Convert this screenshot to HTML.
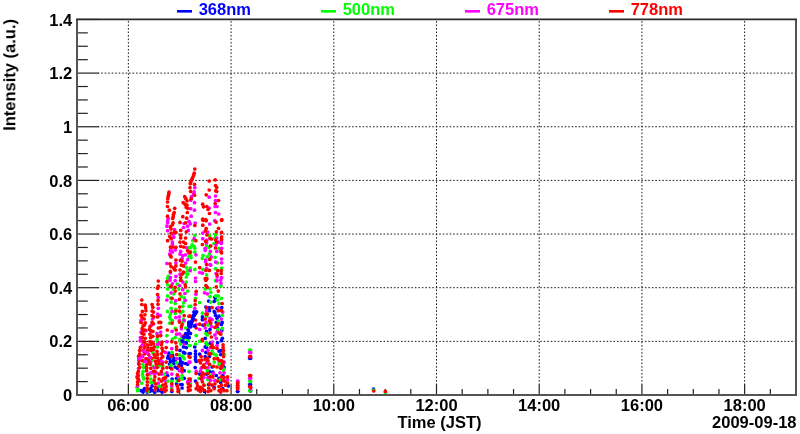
<!DOCTYPE html>
<html><head><meta charset="utf-8"><style>
html,body{margin:0;padding:0;background:#fff;width:800px;height:434px;overflow:hidden}
svg{display:block}
text{font-family:"Liberation Sans",sans-serif}
</style></head><body>
<svg width="800" height="434" viewBox="0 0 800 434">
<rect width="800" height="434" fill="#fff"/>
<g stroke="#1a1a1a" stroke-width="1" stroke-dasharray="1.6 1.885" fill="none"><line x1="98.5" y1="341.35" x2="795.0" y2="341.35" stroke-dashoffset="0.790"/><line x1="98.5" y1="287.70" x2="795.0" y2="287.70" stroke-dashoffset="0.790"/><line x1="98.5" y1="234.05" x2="795.0" y2="234.05" stroke-dashoffset="0.790"/><line x1="98.5" y1="180.40" x2="795.0" y2="180.40" stroke-dashoffset="0.790"/><line x1="98.5" y1="126.75" x2="795.0" y2="126.75" stroke-dashoffset="0.790"/><line x1="98.5" y1="73.10" x2="795.0" y2="73.10" stroke-dashoffset="0.790"/><line x1="128.36" y1="20.95" x2="128.36" y2="384.0" stroke-dashoffset="3.395"/><line x1="231.07" y1="20.95" x2="231.07" y2="384.0" stroke-dashoffset="3.395"/><line x1="333.79" y1="20.95" x2="333.79" y2="384.0" stroke-dashoffset="3.395"/><line x1="436.50" y1="20.95" x2="436.50" y2="384.0" stroke-dashoffset="3.395"/><line x1="539.21" y1="20.95" x2="539.21" y2="384.0" stroke-dashoffset="3.395"/><line x1="641.93" y1="20.95" x2="641.93" y2="384.0" stroke-dashoffset="3.395"/><line x1="744.64" y1="20.95" x2="744.64" y2="384.0" stroke-dashoffset="3.395"/></g>
<g stroke="#222" stroke-width="1.2"><line x1="77.0" y1="395.00" x2="99.0" y2="395.00"/><line x1="77.0" y1="381.59" x2="87.8" y2="381.59"/><line x1="77.0" y1="368.18" x2="87.8" y2="368.18"/><line x1="77.0" y1="354.76" x2="87.8" y2="354.76"/><line x1="77.0" y1="341.35" x2="99.0" y2="341.35"/><line x1="77.0" y1="327.94" x2="87.8" y2="327.94"/><line x1="77.0" y1="314.52" x2="87.8" y2="314.52"/><line x1="77.0" y1="301.11" x2="87.8" y2="301.11"/><line x1="77.0" y1="287.70" x2="99.0" y2="287.70"/><line x1="77.0" y1="274.29" x2="87.8" y2="274.29"/><line x1="77.0" y1="260.88" x2="87.8" y2="260.88"/><line x1="77.0" y1="247.46" x2="87.8" y2="247.46"/><line x1="77.0" y1="234.05" x2="99.0" y2="234.05"/><line x1="77.0" y1="220.64" x2="87.8" y2="220.64"/><line x1="77.0" y1="207.22" x2="87.8" y2="207.22"/><line x1="77.0" y1="193.81" x2="87.8" y2="193.81"/><line x1="77.0" y1="180.40" x2="99.0" y2="180.40"/><line x1="77.0" y1="166.99" x2="87.8" y2="166.99"/><line x1="77.0" y1="153.57" x2="87.8" y2="153.57"/><line x1="77.0" y1="140.16" x2="87.8" y2="140.16"/><line x1="77.0" y1="126.75" x2="99.0" y2="126.75"/><line x1="77.0" y1="113.34" x2="87.8" y2="113.34"/><line x1="77.0" y1="99.92" x2="87.8" y2="99.92"/><line x1="77.0" y1="86.51" x2="87.8" y2="86.51"/><line x1="77.0" y1="73.10" x2="99.0" y2="73.10"/><line x1="77.0" y1="59.69" x2="87.8" y2="59.69"/><line x1="77.0" y1="46.27" x2="87.8" y2="46.27"/><line x1="77.0" y1="32.86" x2="87.8" y2="32.86"/><line x1="77.0" y1="19.45" x2="99.0" y2="19.45"/><line x1="77.00" y1="395.0" x2="77.00" y2="389.0"/><line x1="102.68" y1="395.0" x2="102.68" y2="389.0"/><line x1="128.36" y1="395.0" x2="128.36" y2="384.0"/><line x1="154.04" y1="395.0" x2="154.04" y2="389.0"/><line x1="179.71" y1="395.0" x2="179.71" y2="389.0"/><line x1="205.39" y1="395.0" x2="205.39" y2="389.0"/><line x1="231.07" y1="395.0" x2="231.07" y2="384.0"/><line x1="256.75" y1="395.0" x2="256.75" y2="389.0"/><line x1="282.43" y1="395.0" x2="282.43" y2="389.0"/><line x1="308.11" y1="395.0" x2="308.11" y2="389.0"/><line x1="333.79" y1="395.0" x2="333.79" y2="384.0"/><line x1="359.46" y1="395.0" x2="359.46" y2="389.0"/><line x1="385.14" y1="395.0" x2="385.14" y2="389.0"/><line x1="410.82" y1="395.0" x2="410.82" y2="389.0"/><line x1="436.50" y1="395.0" x2="436.50" y2="384.0"/><line x1="462.18" y1="395.0" x2="462.18" y2="389.0"/><line x1="487.86" y1="395.0" x2="487.86" y2="389.0"/><line x1="513.54" y1="395.0" x2="513.54" y2="389.0"/><line x1="539.21" y1="395.0" x2="539.21" y2="384.0"/><line x1="564.89" y1="395.0" x2="564.89" y2="389.0"/><line x1="590.57" y1="395.0" x2="590.57" y2="389.0"/><line x1="616.25" y1="395.0" x2="616.25" y2="389.0"/><line x1="641.93" y1="395.0" x2="641.93" y2="384.0"/><line x1="667.61" y1="395.0" x2="667.61" y2="389.0"/><line x1="693.29" y1="395.0" x2="693.29" y2="389.0"/><line x1="718.96" y1="395.0" x2="718.96" y2="389.0"/><line x1="744.64" y1="395.0" x2="744.64" y2="384.0"/><line x1="770.32" y1="395.0" x2="770.32" y2="389.0"/><line x1="796.00" y1="395.0" x2="796.00" y2="389.0"/></g>
<g stroke="#555" stroke-width="2" fill="none"><line x1="77.0" y1="19.45" x2="77.0" y2="396.0"/><line x1="796.0" y1="19.45" x2="796.0" y2="396.0"/><line x1="76.0" y1="395.0" x2="797.0" y2="395.0"/></g>
<line x1="76.0" y1="19.35" x2="797.0" y2="19.35" stroke="#2a2a2a" stroke-width="1.6"/>
<g fill="#0000ff"><circle cx="189.0" cy="322.4" r="1.85"/><circle cx="189.0" cy="324.5" r="1.85"/><circle cx="187.6" cy="334.2" r="1.85"/><circle cx="189.0" cy="332.8" r="1.85"/><circle cx="187.0" cy="337.0" r="1.85"/><circle cx="189.0" cy="337.6" r="1.85"/><circle cx="214.9" cy="297.3" r="1.85"/><circle cx="215.6" cy="299.7" r="1.85"/><circle cx="214.2" cy="301.4" r="1.85"/><circle cx="208.7" cy="301.1" r="1.85"/><circle cx="209.4" cy="307.6" r="1.85"/><circle cx="205.9" cy="307.0" r="1.85"/><circle cx="217.0" cy="308.3" r="1.85"/><circle cx="221.7" cy="307.6" r="1.85"/><circle cx="194.1" cy="312.1" r="1.85"/><circle cx="193.5" cy="315.5" r="1.85"/><circle cx="192.8" cy="318.3" r="1.85"/><circle cx="192.1" cy="321.1" r="1.85"/><circle cx="191.4" cy="323.8" r="1.85"/><circle cx="190.7" cy="326.6" r="1.85"/><circle cx="190.3" cy="333.5" r="1.85"/><circle cx="202.4" cy="316.9" r="1.85"/><circle cx="202.4" cy="319.7" r="1.85"/><circle cx="203.1" cy="325.2" r="1.85"/><circle cx="206.6" cy="331.4" r="1.85"/><circle cx="205.2" cy="338.3" r="1.85"/><circle cx="209.4" cy="310.7" r="1.85"/><circle cx="214.9" cy="312.8" r="1.85"/><circle cx="215.6" cy="315.5" r="1.85"/><circle cx="217.0" cy="318.3" r="1.85"/><circle cx="216.3" cy="322.4" r="1.85"/><circle cx="217.6" cy="328.0" r="1.85"/><circle cx="219.0" cy="316.2" r="1.85"/><circle cx="210.0" cy="329.4" r="1.85"/><circle cx="214.2" cy="311.4" r="1.85"/><circle cx="194.8" cy="325.9" r="1.85"/><circle cx="222.1" cy="322.4" r="1.85"/><circle cx="221.4" cy="324.5" r="1.85"/><circle cx="221.7" cy="330.7" r="1.85"/><circle cx="222.4" cy="338.3" r="1.85"/><circle cx="182.8" cy="341.4" r="1.85"/><circle cx="186.3" cy="342.8" r="1.85"/><circle cx="183.5" cy="346.9" r="1.85"/><circle cx="186.3" cy="347.6" r="1.85"/><circle cx="180.0" cy="350.4" r="1.85"/><circle cx="183.5" cy="352.4" r="1.85"/><circle cx="184.9" cy="353.1" r="1.85"/><circle cx="169.0" cy="353.1" r="1.85"/><circle cx="168.3" cy="355.9" r="1.85"/><circle cx="167.6" cy="358.0" r="1.85"/><circle cx="169.7" cy="358.7" r="1.85"/><circle cx="172.4" cy="355.2" r="1.85"/><circle cx="173.8" cy="358.0" r="1.85"/><circle cx="173.1" cy="360.7" r="1.85"/><circle cx="170.4" cy="361.4" r="1.85"/><circle cx="175.2" cy="360.7" r="1.85"/><circle cx="180.0" cy="358.7" r="1.85"/><circle cx="180.7" cy="361.4" r="1.85"/><circle cx="182.8" cy="362.8" r="1.85"/><circle cx="185.6" cy="363.5" r="1.85"/><circle cx="187.6" cy="364.2" r="1.85"/><circle cx="179.4" cy="364.2" r="1.85"/><circle cx="173.8" cy="363.5" r="1.85"/><circle cx="169.7" cy="364.2" r="1.85"/><circle cx="170.4" cy="367.6" r="1.85"/><circle cx="175.2" cy="367.0" r="1.85"/><circle cx="177.3" cy="368.3" r="1.85"/><circle cx="189.0" cy="353.8" r="1.85"/><circle cx="181.4" cy="365.6" r="1.85"/><circle cx="194.8" cy="346.9" r="1.85"/><circle cx="195.5" cy="351.1" r="1.85"/><circle cx="195.5" cy="353.8" r="1.85"/><circle cx="195.5" cy="356.6" r="1.85"/><circle cx="195.5" cy="359.4" r="1.85"/><circle cx="196.2" cy="361.4" r="1.85"/><circle cx="199.7" cy="354.2" r="1.85"/><circle cx="190.3" cy="353.5" r="1.85"/><circle cx="195.2" cy="367.6" r="1.85"/><circle cx="205.2" cy="356.6" r="1.85"/><circle cx="205.2" cy="346.9" r="1.85"/><circle cx="206.6" cy="347.6" r="1.85"/><circle cx="206.6" cy="344.1" r="1.85"/><circle cx="210.0" cy="343.5" r="1.85"/><circle cx="205.9" cy="352.4" r="1.85"/><circle cx="217.6" cy="342.8" r="1.85"/><circle cx="219.0" cy="351.1" r="1.85"/><circle cx="212.1" cy="367.0" r="1.85"/><circle cx="209.4" cy="356.6" r="1.85"/><circle cx="220.7" cy="350.7" r="1.85"/><circle cx="220.7" cy="354.5" r="1.85"/><circle cx="224.1" cy="367.0" r="1.85"/><circle cx="221.4" cy="340.7" r="1.85"/><circle cx="249.7" cy="358.3" r="1.85"/><circle cx="141.1" cy="390.7" r="1.85"/><circle cx="143.8" cy="390.0" r="1.85"/><circle cx="144.5" cy="388.7" r="1.85"/><circle cx="150.7" cy="388.7" r="1.85"/><circle cx="152.1" cy="385.9" r="1.85"/><circle cx="152.1" cy="390.7" r="1.85"/><circle cx="157.6" cy="388.0" r="1.85"/><circle cx="158.3" cy="390.7" r="1.85"/><circle cx="143.1" cy="392.1" r="1.85"/><circle cx="147.3" cy="392.1" r="1.85"/><circle cx="154.9" cy="392.1" r="1.85"/><circle cx="149.4" cy="391.4" r="1.85"/><circle cx="167.6" cy="375.5" r="1.85"/><circle cx="161.0" cy="390.7" r="1.85"/><circle cx="162.1" cy="392.1" r="1.85"/><circle cx="172.1" cy="379.0" r="1.85"/><circle cx="171.8" cy="391.4" r="1.85"/><circle cx="176.6" cy="378.3" r="1.85"/><circle cx="176.6" cy="383.8" r="1.85"/><circle cx="180.7" cy="384.5" r="1.85"/><circle cx="182.1" cy="384.5" r="1.85"/><circle cx="182.1" cy="388.0" r="1.85"/><circle cx="184.2" cy="378.3" r="1.85"/><circle cx="184.2" cy="370.7" r="1.85"/><circle cx="199.7" cy="374.1" r="1.85"/><circle cx="195.5" cy="381.1" r="1.85"/><circle cx="199.7" cy="389.4" r="1.85"/><circle cx="204.5" cy="391.4" r="1.85"/><circle cx="206.6" cy="374.1" r="1.85"/><circle cx="209.4" cy="371.4" r="1.85"/><circle cx="212.8" cy="372.1" r="1.85"/><circle cx="216.3" cy="375.5" r="1.85"/><circle cx="208.7" cy="384.5" r="1.85"/><circle cx="214.2" cy="387.3" r="1.85"/><circle cx="219.0" cy="378.3" r="1.85"/><circle cx="222.8" cy="375.5" r="1.85"/><circle cx="220.7" cy="382.4" r="1.85"/><circle cx="228.3" cy="385.9" r="1.85"/><circle cx="222.8" cy="388.7" r="1.85"/><circle cx="237.6" cy="391.4" r="1.85"/><circle cx="249.7" cy="384.5" r="1.85"/><circle cx="237.7" cy="391.3" r="1.85"/><circle cx="250.6" cy="358.2" r="1.85"/><circle cx="250.6" cy="384.5" r="1.85"/><circle cx="250.6" cy="391.0" r="1.85"/><circle cx="373.5" cy="389.0" r="1.85"/></g><g fill="#00ff00"><circle cx="189.0" cy="247.6" r="1.85"/><circle cx="194.8" cy="235.6" r="1.85"/><circle cx="192.8" cy="240.7" r="1.85"/><circle cx="192.1" cy="244.9" r="1.85"/><circle cx="194.1" cy="246.3" r="1.85"/><circle cx="190.7" cy="247.6" r="1.85"/><circle cx="194.8" cy="248.3" r="1.85"/><circle cx="209.4" cy="235.2" r="1.85"/><circle cx="206.6" cy="245.6" r="1.85"/><circle cx="208.7" cy="247.6" r="1.85"/><circle cx="215.4" cy="234.9" r="1.85"/><circle cx="214.7" cy="238.0" r="1.85"/><circle cx="214.0" cy="243.5" r="1.85"/><circle cx="218.8" cy="248.3" r="1.85"/><circle cx="186.3" cy="267.3" r="1.85"/><circle cx="187.6" cy="270.7" r="1.85"/><circle cx="184.9" cy="272.8" r="1.85"/><circle cx="187.6" cy="274.2" r="1.85"/><circle cx="186.3" cy="277.0" r="1.85"/><circle cx="168.3" cy="276.3" r="1.85"/><circle cx="167.6" cy="278.3" r="1.85"/><circle cx="189.0" cy="256.9" r="1.85"/><circle cx="190.7" cy="252.1" r="1.85"/><circle cx="190.7" cy="255.5" r="1.85"/><circle cx="191.0" cy="257.6" r="1.85"/><circle cx="194.8" cy="252.1" r="1.85"/><circle cx="203.1" cy="255.5" r="1.85"/><circle cx="202.4" cy="258.3" r="1.85"/><circle cx="207.3" cy="256.9" r="1.85"/><circle cx="209.4" cy="254.1" r="1.85"/><circle cx="190.3" cy="268.0" r="1.85"/><circle cx="194.8" cy="269.4" r="1.85"/><circle cx="202.8" cy="269.4" r="1.85"/><circle cx="206.6" cy="274.9" r="1.85"/><circle cx="215.0" cy="257.3" r="1.85"/><circle cx="217.4" cy="262.8" r="1.85"/><circle cx="215.4" cy="268.7" r="1.85"/><circle cx="221.6" cy="270.0" r="1.85"/><circle cx="221.6" cy="268.0" r="1.85"/><circle cx="167.6" cy="284.8" r="1.85"/><circle cx="167.6" cy="289.0" r="1.85"/><circle cx="173.1" cy="289.0" r="1.85"/><circle cx="173.8" cy="293.8" r="1.85"/><circle cx="167.6" cy="295.9" r="1.85"/><circle cx="170.4" cy="298.0" r="1.85"/><circle cx="171.1" cy="302.1" r="1.85"/><circle cx="175.2" cy="303.5" r="1.85"/><circle cx="178.7" cy="289.0" r="1.85"/><circle cx="181.4" cy="296.6" r="1.85"/><circle cx="184.2" cy="298.0" r="1.85"/><circle cx="183.5" cy="302.8" r="1.85"/><circle cx="182.8" cy="306.3" r="1.85"/><circle cx="186.3" cy="282.1" r="1.85"/><circle cx="187.6" cy="291.1" r="1.85"/><circle cx="189.0" cy="306.3" r="1.85"/><circle cx="171.1" cy="308.3" r="1.85"/><circle cx="175.9" cy="309.4" r="1.85"/><circle cx="177.3" cy="284.1" r="1.85"/><circle cx="181.4" cy="280.3" r="1.85"/><circle cx="157.6" cy="334.2" r="1.85"/><circle cx="157.0" cy="339.0" r="1.85"/><circle cx="167.6" cy="311.4" r="1.85"/><circle cx="170.4" cy="314.1" r="1.85"/><circle cx="169.7" cy="316.9" r="1.85"/><circle cx="170.4" cy="319.0" r="1.85"/><circle cx="172.4" cy="320.7" r="1.85"/><circle cx="169.7" cy="323.1" r="1.85"/><circle cx="175.2" cy="313.5" r="1.85"/><circle cx="180.7" cy="312.8" r="1.85"/><circle cx="182.8" cy="311.4" r="1.85"/><circle cx="183.5" cy="319.0" r="1.85"/><circle cx="182.8" cy="322.4" r="1.85"/><circle cx="185.6" cy="328.0" r="1.85"/><circle cx="175.2" cy="328.3" r="1.85"/><circle cx="166.9" cy="335.6" r="1.85"/><circle cx="175.2" cy="337.6" r="1.85"/><circle cx="172.4" cy="339.0" r="1.85"/><circle cx="184.2" cy="338.3" r="1.85"/><circle cx="180.0" cy="339.0" r="1.85"/><circle cx="215.6" cy="280.7" r="1.85"/><circle cx="205.2" cy="289.0" r="1.85"/><circle cx="210.0" cy="288.6" r="1.85"/><circle cx="210.7" cy="292.4" r="1.85"/><circle cx="210.0" cy="296.6" r="1.85"/><circle cx="215.6" cy="295.9" r="1.85"/><circle cx="218.3" cy="295.9" r="1.85"/><circle cx="217.3" cy="300.0" r="1.85"/><circle cx="199.7" cy="302.5" r="1.85"/><circle cx="210.7" cy="302.1" r="1.85"/><circle cx="195.5" cy="298.3" r="1.85"/><circle cx="190.7" cy="306.3" r="1.85"/><circle cx="219.0" cy="303.5" r="1.85"/><circle cx="221.0" cy="285.9" r="1.85"/><circle cx="221.4" cy="298.3" r="1.85"/><circle cx="195.5" cy="311.4" r="1.85"/><circle cx="195.5" cy="313.8" r="1.85"/><circle cx="202.4" cy="313.1" r="1.85"/><circle cx="208.0" cy="324.9" r="1.85"/><circle cx="210.7" cy="323.8" r="1.85"/><circle cx="205.9" cy="333.5" r="1.85"/><circle cx="207.3" cy="334.9" r="1.85"/><circle cx="196.2" cy="335.6" r="1.85"/><circle cx="218.3" cy="321.1" r="1.85"/><circle cx="217.6" cy="329.4" r="1.85"/><circle cx="206.6" cy="316.2" r="1.85"/><circle cx="222.4" cy="315.2" r="1.85"/><circle cx="222.4" cy="328.3" r="1.85"/><circle cx="157.6" cy="341.4" r="1.85"/><circle cx="157.6" cy="346.9" r="1.85"/><circle cx="152.8" cy="352.8" r="1.85"/><circle cx="156.3" cy="355.9" r="1.85"/><circle cx="152.8" cy="360.0" r="1.85"/><circle cx="142.8" cy="364.5" r="1.85"/><circle cx="143.5" cy="367.3" r="1.85"/><circle cx="152.8" cy="366.3" r="1.85"/><circle cx="159.0" cy="366.3" r="1.85"/><circle cx="180.0" cy="341.0" r="1.85"/><circle cx="180.7" cy="344.1" r="1.85"/><circle cx="187.6" cy="340.7" r="1.85"/><circle cx="189.0" cy="345.5" r="1.85"/><circle cx="172.1" cy="352.4" r="1.85"/><circle cx="179.4" cy="354.9" r="1.85"/><circle cx="182.8" cy="356.2" r="1.85"/><circle cx="184.2" cy="358.7" r="1.85"/><circle cx="176.6" cy="362.8" r="1.85"/><circle cx="171.1" cy="365.2" r="1.85"/><circle cx="162.8" cy="365.6" r="1.85"/><circle cx="190.0" cy="345.5" r="1.85"/><circle cx="195.5" cy="344.1" r="1.85"/><circle cx="199.7" cy="341.4" r="1.85"/><circle cx="205.9" cy="342.8" r="1.85"/><circle cx="207.3" cy="344.8" r="1.85"/><circle cx="212.1" cy="351.1" r="1.85"/><circle cx="213.5" cy="353.8" r="1.85"/><circle cx="216.3" cy="355.2" r="1.85"/><circle cx="214.2" cy="362.1" r="1.85"/><circle cx="219.0" cy="364.2" r="1.85"/><circle cx="210.0" cy="364.9" r="1.85"/><circle cx="224.5" cy="354.5" r="1.85"/><circle cx="220.0" cy="363.8" r="1.85"/><circle cx="224.1" cy="369.0" r="1.85"/><circle cx="249.7" cy="350.0" r="1.85"/><circle cx="136.9" cy="387.3" r="1.85"/><circle cx="138.3" cy="389.4" r="1.85"/><circle cx="137.6" cy="390.7" r="1.85"/><circle cx="143.1" cy="371.4" r="1.85"/><circle cx="142.4" cy="374.1" r="1.85"/><circle cx="143.1" cy="376.9" r="1.85"/><circle cx="143.8" cy="379.0" r="1.85"/><circle cx="141.8" cy="383.1" r="1.85"/><circle cx="148.0" cy="391.4" r="1.85"/><circle cx="150.0" cy="374.8" r="1.85"/><circle cx="150.7" cy="379.0" r="1.85"/><circle cx="150.7" cy="382.4" r="1.85"/><circle cx="153.5" cy="382.4" r="1.85"/><circle cx="159.0" cy="385.9" r="1.85"/><circle cx="164.1" cy="374.1" r="1.85"/><circle cx="160.7" cy="386.6" r="1.85"/><circle cx="167.6" cy="381.1" r="1.85"/><circle cx="171.8" cy="381.4" r="1.85"/><circle cx="171.8" cy="388.0" r="1.85"/><circle cx="177.3" cy="381.1" r="1.85"/><circle cx="179.4" cy="378.3" r="1.85"/><circle cx="182.1" cy="375.5" r="1.85"/><circle cx="182.1" cy="379.0" r="1.85"/><circle cx="189.0" cy="371.4" r="1.85"/><circle cx="190.3" cy="383.8" r="1.85"/><circle cx="199.0" cy="378.3" r="1.85"/><circle cx="204.5" cy="385.2" r="1.85"/><circle cx="207.3" cy="370.7" r="1.85"/><circle cx="211.4" cy="374.8" r="1.85"/><circle cx="208.0" cy="379.7" r="1.85"/><circle cx="212.8" cy="374.8" r="1.85"/><circle cx="223.5" cy="370.7" r="1.85"/><circle cx="220.0" cy="379.7" r="1.85"/><circle cx="249.7" cy="381.1" r="1.85"/><circle cx="249.7" cy="390.7" r="1.85"/><circle cx="250.6" cy="350.2" r="1.85"/><circle cx="250.6" cy="381.4" r="1.85"/><circle cx="250.6" cy="390.2" r="1.85"/><circle cx="373.5" cy="390.0" r="1.85"/><circle cx="385.4" cy="392.2" r="1.85"/></g><g fill="#ff00ff"><circle cx="194.8" cy="187.7" r="1.85"/><circle cx="194.2" cy="191.8" r="1.85"/><circle cx="193.7" cy="193.9" r="1.85"/><circle cx="191.5" cy="196.7" r="1.85"/><circle cx="190.7" cy="200.2" r="1.85"/><circle cx="194.5" cy="202.7" r="1.85"/><circle cx="190.7" cy="208.7" r="1.85"/><circle cx="194.5" cy="210.2" r="1.85"/><circle cx="191.2" cy="216.2" r="1.85"/><circle cx="209.2" cy="197.2" r="1.85"/><circle cx="209.2" cy="208.0" r="1.85"/><circle cx="215.5" cy="196.0" r="1.85"/><circle cx="215.5" cy="200.5" r="1.85"/><circle cx="215.2" cy="206.5" r="1.85"/><circle cx="217.0" cy="206.5" r="1.85"/><circle cx="215.5" cy="212.5" r="1.85"/><circle cx="218.8" cy="214.0" r="1.85"/><circle cx="168.2" cy="218.5" r="1.85"/><circle cx="167.6" cy="220.7" r="1.85"/><circle cx="167.6" cy="222.8" r="1.85"/><circle cx="166.9" cy="226.2" r="1.85"/><circle cx="167.6" cy="230.7" r="1.85"/><circle cx="174.5" cy="229.7" r="1.85"/><circle cx="173.1" cy="234.5" r="1.85"/><circle cx="173.8" cy="237.3" r="1.85"/><circle cx="172.4" cy="242.1" r="1.85"/><circle cx="172.4" cy="244.2" r="1.85"/><circle cx="171.1" cy="249.0" r="1.85"/><circle cx="183.5" cy="227.6" r="1.85"/><circle cx="184.2" cy="223.5" r="1.85"/><circle cx="187.6" cy="226.2" r="1.85"/><circle cx="188.3" cy="230.4" r="1.85"/><circle cx="186.3" cy="247.6" r="1.85"/><circle cx="189.0" cy="221.4" r="1.85"/><circle cx="190.3" cy="223.8" r="1.85"/><circle cx="195.2" cy="223.1" r="1.85"/><circle cx="209.7" cy="224.1" r="1.85"/><circle cx="202.8" cy="233.1" r="1.85"/><circle cx="207.6" cy="232.1" r="1.85"/><circle cx="202.8" cy="238.7" r="1.85"/><circle cx="206.9" cy="240.0" r="1.85"/><circle cx="206.6" cy="242.8" r="1.85"/><circle cx="205.2" cy="248.3" r="1.85"/><circle cx="194.1" cy="238.7" r="1.85"/><circle cx="221.6" cy="242.1" r="1.85"/><circle cx="221.2" cy="243.5" r="1.85"/><circle cx="221.6" cy="248.3" r="1.85"/><circle cx="214.7" cy="220.7" r="1.85"/><circle cx="216.8" cy="238.0" r="1.85"/><circle cx="218.8" cy="242.1" r="1.85"/><circle cx="216.1" cy="244.9" r="1.85"/><circle cx="170.4" cy="250.7" r="1.85"/><circle cx="172.4" cy="252.1" r="1.85"/><circle cx="169.7" cy="254.1" r="1.85"/><circle cx="175.2" cy="250.0" r="1.85"/><circle cx="180.7" cy="251.4" r="1.85"/><circle cx="180.0" cy="254.1" r="1.85"/><circle cx="182.8" cy="255.5" r="1.85"/><circle cx="185.6" cy="254.8" r="1.85"/><circle cx="182.1" cy="258.3" r="1.85"/><circle cx="187.6" cy="259.7" r="1.85"/><circle cx="185.6" cy="263.1" r="1.85"/><circle cx="166.9" cy="263.5" r="1.85"/><circle cx="175.9" cy="263.1" r="1.85"/><circle cx="170.4" cy="272.8" r="1.85"/><circle cx="180.0" cy="274.2" r="1.85"/><circle cx="175.9" cy="276.3" r="1.85"/><circle cx="170.4" cy="277.6" r="1.85"/><circle cx="195.9" cy="254.8" r="1.85"/><circle cx="205.2" cy="250.3" r="1.85"/><circle cx="210.4" cy="251.4" r="1.85"/><circle cx="211.1" cy="256.9" r="1.85"/><circle cx="205.6" cy="260.0" r="1.85"/><circle cx="205.6" cy="261.8" r="1.85"/><circle cx="210.0" cy="264.5" r="1.85"/><circle cx="210.7" cy="265.2" r="1.85"/><circle cx="206.6" cy="268.3" r="1.85"/><circle cx="199.7" cy="272.5" r="1.85"/><circle cx="202.4" cy="273.2" r="1.85"/><circle cx="195.5" cy="278.0" r="1.85"/><circle cx="190.3" cy="270.7" r="1.85"/><circle cx="216.8" cy="251.4" r="1.85"/><circle cx="221.6" cy="259.0" r="1.85"/><circle cx="221.6" cy="262.8" r="1.85"/><circle cx="215.7" cy="262.1" r="1.85"/><circle cx="217.1" cy="277.0" r="1.85"/><circle cx="221.6" cy="277.6" r="1.85"/><circle cx="216.1" cy="273.5" r="1.85"/><circle cx="158.3" cy="297.3" r="1.85"/><circle cx="158.3" cy="308.3" r="1.85"/><circle cx="170.0" cy="280.3" r="1.85"/><circle cx="175.2" cy="280.7" r="1.85"/><circle cx="172.4" cy="283.8" r="1.85"/><circle cx="170.4" cy="286.9" r="1.85"/><circle cx="171.1" cy="292.8" r="1.85"/><circle cx="179.7" cy="285.5" r="1.85"/><circle cx="182.8" cy="282.1" r="1.85"/><circle cx="182.8" cy="289.7" r="1.85"/><circle cx="184.9" cy="293.5" r="1.85"/><circle cx="166.9" cy="300.0" r="1.85"/><circle cx="175.6" cy="300.7" r="1.85"/><circle cx="185.2" cy="300.4" r="1.85"/><circle cx="141.1" cy="320.4" r="1.85"/><circle cx="141.1" cy="332.1" r="1.85"/><circle cx="145.9" cy="330.7" r="1.85"/><circle cx="140.4" cy="337.6" r="1.85"/><circle cx="152.5" cy="319.0" r="1.85"/><circle cx="151.4" cy="325.2" r="1.85"/><circle cx="157.6" cy="314.1" r="1.85"/><circle cx="157.0" cy="333.5" r="1.85"/><circle cx="172.1" cy="311.4" r="1.85"/><circle cx="175.9" cy="317.6" r="1.85"/><circle cx="179.4" cy="316.9" r="1.85"/><circle cx="179.4" cy="320.7" r="1.85"/><circle cx="184.2" cy="320.4" r="1.85"/><circle cx="172.1" cy="331.4" r="1.85"/><circle cx="181.4" cy="328.7" r="1.85"/><circle cx="176.6" cy="334.2" r="1.85"/><circle cx="179.4" cy="333.8" r="1.85"/><circle cx="182.1" cy="336.3" r="1.85"/><circle cx="189.0" cy="326.6" r="1.85"/><circle cx="160.7" cy="332.1" r="1.85"/><circle cx="160.3" cy="315.5" r="1.85"/><circle cx="195.5" cy="281.4" r="1.85"/><circle cx="217.0" cy="280.7" r="1.85"/><circle cx="195.9" cy="294.2" r="1.85"/><circle cx="204.5" cy="292.8" r="1.85"/><circle cx="207.3" cy="293.8" r="1.85"/><circle cx="194.8" cy="308.3" r="1.85"/><circle cx="218.3" cy="307.6" r="1.85"/><circle cx="221.0" cy="283.1" r="1.85"/><circle cx="220.7" cy="280.0" r="1.85"/><circle cx="206.6" cy="310.7" r="1.85"/><circle cx="210.0" cy="318.3" r="1.85"/><circle cx="212.1" cy="319.7" r="1.85"/><circle cx="205.9" cy="322.4" r="1.85"/><circle cx="211.4" cy="326.6" r="1.85"/><circle cx="205.2" cy="328.0" r="1.85"/><circle cx="196.2" cy="324.5" r="1.85"/><circle cx="199.7" cy="329.4" r="1.85"/><circle cx="214.9" cy="334.9" r="1.85"/><circle cx="217.0" cy="332.1" r="1.85"/><circle cx="216.3" cy="338.3" r="1.85"/><circle cx="190.3" cy="326.6" r="1.85"/><circle cx="222.8" cy="312.1" r="1.85"/><circle cx="221.4" cy="319.0" r="1.85"/><circle cx="220.7" cy="332.1" r="1.85"/><circle cx="140.4" cy="340.7" r="1.85"/><circle cx="142.4" cy="345.2" r="1.85"/><circle cx="159.0" cy="342.8" r="1.85"/><circle cx="157.6" cy="344.5" r="1.85"/><circle cx="143.8" cy="351.1" r="1.85"/><circle cx="147.3" cy="352.8" r="1.85"/><circle cx="142.4" cy="356.6" r="1.85"/><circle cx="139.0" cy="358.7" r="1.85"/><circle cx="144.9" cy="361.4" r="1.85"/><circle cx="149.7" cy="357.3" r="1.85"/><circle cx="150.7" cy="362.1" r="1.85"/><circle cx="138.6" cy="363.5" r="1.85"/><circle cx="138.6" cy="368.3" r="1.85"/><circle cx="154.2" cy="367.6" r="1.85"/><circle cx="148.0" cy="362.8" r="1.85"/><circle cx="166.9" cy="341.7" r="1.85"/><circle cx="171.8" cy="348.6" r="1.85"/><circle cx="165.5" cy="352.4" r="1.85"/><circle cx="160.7" cy="360.7" r="1.85"/><circle cx="162.8" cy="362.1" r="1.85"/><circle cx="176.6" cy="358.7" r="1.85"/><circle cx="184.2" cy="344.1" r="1.85"/><circle cx="189.0" cy="362.1" r="1.85"/><circle cx="202.4" cy="350.4" r="1.85"/><circle cx="212.1" cy="342.1" r="1.85"/><circle cx="210.7" cy="347.6" r="1.85"/><circle cx="208.0" cy="350.4" r="1.85"/><circle cx="217.0" cy="345.5" r="1.85"/><circle cx="190.0" cy="362.1" r="1.85"/><circle cx="201.1" cy="368.3" r="1.85"/><circle cx="208.0" cy="367.6" r="1.85"/><circle cx="206.6" cy="362.8" r="1.85"/><circle cx="224.1" cy="362.1" r="1.85"/><circle cx="222.1" cy="367.0" r="1.85"/><circle cx="249.7" cy="352.4" r="1.85"/><circle cx="136.9" cy="376.9" r="1.85"/><circle cx="139.0" cy="381.1" r="1.85"/><circle cx="137.6" cy="385.9" r="1.85"/><circle cx="148.0" cy="374.1" r="1.85"/><circle cx="150.7" cy="372.8" r="1.85"/><circle cx="152.8" cy="372.1" r="1.85"/><circle cx="154.2" cy="374.1" r="1.85"/><circle cx="156.3" cy="372.8" r="1.85"/><circle cx="158.3" cy="383.1" r="1.85"/><circle cx="166.9" cy="372.8" r="1.85"/><circle cx="164.8" cy="380.4" r="1.85"/><circle cx="161.4" cy="374.1" r="1.85"/><circle cx="171.8" cy="374.1" r="1.85"/><circle cx="171.8" cy="385.9" r="1.85"/><circle cx="178.0" cy="376.2" r="1.85"/><circle cx="179.4" cy="370.7" r="1.85"/><circle cx="182.1" cy="372.1" r="1.85"/><circle cx="187.6" cy="381.8" r="1.85"/><circle cx="190.3" cy="381.1" r="1.85"/><circle cx="196.2" cy="371.4" r="1.85"/><circle cx="200.4" cy="371.4" r="1.85"/><circle cx="203.8" cy="377.6" r="1.85"/><circle cx="201.8" cy="379.7" r="1.85"/><circle cx="208.0" cy="377.6" r="1.85"/><circle cx="213.5" cy="373.5" r="1.85"/><circle cx="210.7" cy="380.4" r="1.85"/><circle cx="214.9" cy="380.4" r="1.85"/><circle cx="224.1" cy="372.8" r="1.85"/><circle cx="220.0" cy="372.8" r="1.85"/><circle cx="227.6" cy="379.7" r="1.85"/><circle cx="237.6" cy="381.1" r="1.85"/><circle cx="249.7" cy="378.3" r="1.85"/><circle cx="237.8" cy="381.3" r="1.85"/><circle cx="250.8" cy="352.6" r="1.85"/><circle cx="250.6" cy="378.3" r="1.85"/><circle cx="250.6" cy="388.7" r="1.85"/></g><g fill="#ff0000"><circle cx="194.8" cy="169.0" r="1.85"/><circle cx="194.2" cy="173.2" r="1.85"/><circle cx="193.7" cy="175.0" r="1.85"/><circle cx="193.0" cy="176.8" r="1.85"/><circle cx="192.2" cy="178.7" r="1.85"/><circle cx="191.5" cy="180.2" r="1.85"/><circle cx="190.7" cy="182.2" r="1.85"/><circle cx="190.3" cy="183.7" r="1.85"/><circle cx="194.5" cy="184.3" r="1.85"/><circle cx="190.0" cy="187.7" r="1.85"/><circle cx="190.7" cy="191.5" r="1.85"/><circle cx="194.5" cy="195.2" r="1.85"/><circle cx="191.2" cy="198.7" r="1.85"/><circle cx="169.0" cy="192.2" r="1.85"/><circle cx="168.7" cy="194.2" r="1.85"/><circle cx="168.2" cy="196.3" r="1.85"/><circle cx="167.8" cy="198.7" r="1.85"/><circle cx="167.5" cy="202.0" r="1.85"/><circle cx="167.5" cy="206.5" r="1.85"/><circle cx="169.3" cy="210.2" r="1.85"/><circle cx="167.5" cy="216.2" r="1.85"/><circle cx="174.7" cy="208.3" r="1.85"/><circle cx="174.2" cy="212.5" r="1.85"/><circle cx="173.5" cy="214.3" r="1.85"/><circle cx="173.2" cy="216.7" r="1.85"/><circle cx="172.7" cy="218.5" r="1.85"/><circle cx="184.7" cy="196.7" r="1.85"/><circle cx="185.8" cy="198.7" r="1.85"/><circle cx="187.0" cy="200.8" r="1.85"/><circle cx="183.2" cy="202.7" r="1.85"/><circle cx="185.2" cy="204.4" r="1.85"/><circle cx="187.0" cy="205.0" r="1.85"/><circle cx="186.2" cy="207.2" r="1.85"/><circle cx="187.7" cy="208.3" r="1.85"/><circle cx="187.3" cy="212.5" r="1.85"/><circle cx="182.8" cy="216.7" r="1.85"/><circle cx="186.7" cy="218.2" r="1.85"/><circle cx="209.2" cy="181.0" r="1.85"/><circle cx="209.2" cy="190.0" r="1.85"/><circle cx="206.2" cy="194.8" r="1.85"/><circle cx="202.7" cy="204.2" r="1.85"/><circle cx="203.5" cy="206.8" r="1.85"/><circle cx="206.8" cy="206.5" r="1.85"/><circle cx="208.0" cy="209.5" r="1.85"/><circle cx="209.5" cy="213.5" r="1.85"/><circle cx="202.7" cy="219.2" r="1.85"/><circle cx="205.7" cy="219.7" r="1.85"/><circle cx="215.2" cy="179.8" r="1.85"/><circle cx="215.5" cy="185.5" r="1.85"/><circle cx="216.7" cy="187.3" r="1.85"/><circle cx="215.8" cy="190.7" r="1.85"/><circle cx="216.7" cy="191.5" r="1.85"/><circle cx="218.5" cy="200.5" r="1.85"/><circle cx="215.2" cy="203.5" r="1.85"/><circle cx="221.8" cy="219.7" r="1.85"/><circle cx="173.1" cy="222.8" r="1.85"/><circle cx="172.4" cy="224.8" r="1.85"/><circle cx="170.4" cy="226.9" r="1.85"/><circle cx="171.1" cy="229.0" r="1.85"/><circle cx="171.1" cy="233.1" r="1.85"/><circle cx="174.5" cy="232.1" r="1.85"/><circle cx="175.9" cy="232.4" r="1.85"/><circle cx="169.7" cy="236.6" r="1.85"/><circle cx="171.1" cy="238.7" r="1.85"/><circle cx="167.6" cy="240.7" r="1.85"/><circle cx="180.0" cy="222.4" r="1.85"/><circle cx="180.7" cy="230.4" r="1.85"/><circle cx="186.3" cy="231.8" r="1.85"/><circle cx="185.6" cy="222.8" r="1.85"/><circle cx="180.7" cy="235.2" r="1.85"/><circle cx="180.7" cy="238.0" r="1.85"/><circle cx="185.6" cy="238.0" r="1.85"/><circle cx="180.0" cy="242.1" r="1.85"/><circle cx="183.5" cy="242.1" r="1.85"/><circle cx="185.6" cy="243.5" r="1.85"/><circle cx="180.7" cy="246.3" r="1.85"/><circle cx="183.5" cy="247.0" r="1.85"/><circle cx="170.4" cy="247.0" r="1.85"/><circle cx="173.1" cy="247.0" r="1.85"/><circle cx="175.9" cy="247.3" r="1.85"/><circle cx="203.1" cy="220.3" r="1.85"/><circle cx="206.2" cy="220.7" r="1.85"/><circle cx="194.8" cy="225.5" r="1.85"/><circle cx="202.8" cy="225.2" r="1.85"/><circle cx="206.2" cy="228.6" r="1.85"/><circle cx="205.2" cy="231.1" r="1.85"/><circle cx="206.9" cy="234.9" r="1.85"/><circle cx="210.0" cy="238.3" r="1.85"/><circle cx="211.4" cy="239.0" r="1.85"/><circle cx="195.9" cy="240.7" r="1.85"/><circle cx="205.6" cy="241.4" r="1.85"/><circle cx="202.4" cy="244.5" r="1.85"/><circle cx="210.7" cy="245.9" r="1.85"/><circle cx="221.6" cy="220.3" r="1.85"/><circle cx="221.6" cy="232.4" r="1.85"/><circle cx="221.6" cy="236.9" r="1.85"/><circle cx="221.6" cy="239.4" r="1.85"/><circle cx="216.1" cy="222.1" r="1.85"/><circle cx="218.5" cy="228.3" r="1.85"/><circle cx="216.4" cy="231.8" r="1.85"/><circle cx="215.7" cy="240.0" r="1.85"/><circle cx="216.8" cy="242.1" r="1.85"/><circle cx="215.4" cy="248.0" r="1.85"/><circle cx="170.4" cy="255.5" r="1.85"/><circle cx="171.1" cy="256.9" r="1.85"/><circle cx="175.9" cy="260.0" r="1.85"/><circle cx="180.4" cy="260.4" r="1.85"/><circle cx="182.1" cy="261.1" r="1.85"/><circle cx="170.0" cy="263.8" r="1.85"/><circle cx="171.1" cy="266.6" r="1.85"/><circle cx="173.8" cy="268.0" r="1.85"/><circle cx="175.9" cy="265.9" r="1.85"/><circle cx="174.5" cy="269.4" r="1.85"/><circle cx="181.4" cy="265.2" r="1.85"/><circle cx="183.5" cy="265.9" r="1.85"/><circle cx="180.0" cy="270.0" r="1.85"/><circle cx="183.5" cy="272.1" r="1.85"/><circle cx="182.1" cy="274.2" r="1.85"/><circle cx="170.4" cy="271.4" r="1.85"/><circle cx="175.2" cy="270.0" r="1.85"/><circle cx="187.6" cy="250.7" r="1.85"/><circle cx="189.0" cy="252.8" r="1.85"/><circle cx="180.7" cy="277.6" r="1.85"/><circle cx="190.3" cy="252.1" r="1.85"/><circle cx="195.5" cy="262.1" r="1.85"/><circle cx="199.7" cy="267.6" r="1.85"/><circle cx="206.6" cy="264.5" r="1.85"/><circle cx="209.7" cy="259.3" r="1.85"/><circle cx="205.9" cy="270.4" r="1.85"/><circle cx="209.4" cy="270.4" r="1.85"/><circle cx="205.2" cy="278.7" r="1.85"/><circle cx="206.9" cy="278.7" r="1.85"/><circle cx="221.6" cy="252.8" r="1.85"/><circle cx="220.9" cy="251.4" r="1.85"/><circle cx="217.8" cy="270.7" r="1.85"/><circle cx="221.2" cy="270.7" r="1.85"/><circle cx="221.2" cy="273.5" r="1.85"/><circle cx="217.1" cy="274.9" r="1.85"/><circle cx="141.8" cy="300.0" r="1.85"/><circle cx="141.8" cy="304.5" r="1.85"/><circle cx="145.2" cy="305.2" r="1.85"/><circle cx="145.6" cy="307.6" r="1.85"/><circle cx="152.1" cy="304.5" r="1.85"/><circle cx="152.8" cy="307.3" r="1.85"/><circle cx="158.3" cy="281.0" r="1.85"/><circle cx="158.3" cy="286.2" r="1.85"/><circle cx="157.6" cy="288.3" r="1.85"/><circle cx="157.6" cy="294.5" r="1.85"/><circle cx="158.0" cy="300.4" r="1.85"/><circle cx="158.0" cy="304.2" r="1.85"/><circle cx="166.9" cy="281.7" r="1.85"/><circle cx="171.1" cy="286.2" r="1.85"/><circle cx="175.2" cy="287.3" r="1.85"/><circle cx="175.2" cy="291.1" r="1.85"/><circle cx="180.0" cy="293.8" r="1.85"/><circle cx="172.1" cy="298.3" r="1.85"/><circle cx="179.4" cy="299.4" r="1.85"/><circle cx="185.2" cy="284.8" r="1.85"/><circle cx="185.6" cy="286.9" r="1.85"/><circle cx="179.7" cy="307.0" r="1.85"/><circle cx="180.7" cy="280.3" r="1.85"/><circle cx="142.4" cy="311.4" r="1.85"/><circle cx="145.9" cy="310.7" r="1.85"/><circle cx="141.1" cy="315.2" r="1.85"/><circle cx="144.9" cy="314.8" r="1.85"/><circle cx="142.1" cy="317.6" r="1.85"/><circle cx="144.2" cy="319.0" r="1.85"/><circle cx="141.1" cy="322.4" r="1.85"/><circle cx="145.2" cy="322.8" r="1.85"/><circle cx="143.1" cy="325.9" r="1.85"/><circle cx="144.5" cy="324.9" r="1.85"/><circle cx="142.1" cy="328.7" r="1.85"/><circle cx="143.1" cy="330.7" r="1.85"/><circle cx="144.9" cy="330.0" r="1.85"/><circle cx="142.1" cy="333.5" r="1.85"/><circle cx="143.8" cy="334.2" r="1.85"/><circle cx="142.4" cy="337.6" r="1.85"/><circle cx="145.2" cy="338.3" r="1.85"/><circle cx="152.1" cy="311.0" r="1.85"/><circle cx="153.5" cy="312.1" r="1.85"/><circle cx="152.1" cy="315.5" r="1.85"/><circle cx="153.8" cy="316.9" r="1.85"/><circle cx="152.1" cy="322.4" r="1.85"/><circle cx="153.5" cy="323.8" r="1.85"/><circle cx="150.0" cy="326.6" r="1.85"/><circle cx="149.4" cy="329.4" r="1.85"/><circle cx="150.7" cy="330.7" r="1.85"/><circle cx="152.8" cy="331.4" r="1.85"/><circle cx="150.0" cy="334.2" r="1.85"/><circle cx="152.8" cy="336.3" r="1.85"/><circle cx="150.7" cy="337.6" r="1.85"/><circle cx="157.6" cy="316.9" r="1.85"/><circle cx="159.0" cy="322.4" r="1.85"/><circle cx="158.3" cy="328.0" r="1.85"/><circle cx="157.6" cy="336.3" r="1.85"/><circle cx="175.9" cy="311.0" r="1.85"/><circle cx="179.4" cy="311.0" r="1.85"/><circle cx="184.2" cy="315.5" r="1.85"/><circle cx="189.0" cy="316.2" r="1.85"/><circle cx="172.1" cy="323.1" r="1.85"/><circle cx="179.4" cy="322.1" r="1.85"/><circle cx="182.1" cy="324.5" r="1.85"/><circle cx="181.4" cy="326.6" r="1.85"/><circle cx="176.2" cy="330.0" r="1.85"/><circle cx="167.3" cy="330.0" r="1.85"/><circle cx="188.3" cy="330.0" r="1.85"/><circle cx="184.2" cy="335.9" r="1.85"/><circle cx="160.7" cy="322.4" r="1.85"/><circle cx="160.7" cy="327.3" r="1.85"/><circle cx="160.7" cy="335.6" r="1.85"/><circle cx="205.9" cy="280.3" r="1.85"/><circle cx="205.9" cy="285.5" r="1.85"/><circle cx="207.3" cy="287.3" r="1.85"/><circle cx="216.3" cy="286.9" r="1.85"/><circle cx="218.3" cy="291.1" r="1.85"/><circle cx="196.2" cy="291.4" r="1.85"/><circle cx="195.2" cy="300.7" r="1.85"/><circle cx="195.2" cy="304.5" r="1.85"/><circle cx="206.6" cy="307.6" r="1.85"/><circle cx="212.1" cy="307.6" r="1.85"/><circle cx="222.1" cy="303.5" r="1.85"/><circle cx="190.3" cy="316.2" r="1.85"/><circle cx="195.5" cy="320.0" r="1.85"/><circle cx="199.7" cy="324.2" r="1.85"/><circle cx="196.2" cy="328.0" r="1.85"/><circle cx="205.9" cy="314.1" r="1.85"/><circle cx="207.3" cy="314.1" r="1.85"/><circle cx="205.2" cy="319.0" r="1.85"/><circle cx="209.4" cy="321.1" r="1.85"/><circle cx="210.7" cy="323.1" r="1.85"/><circle cx="204.5" cy="324.9" r="1.85"/><circle cx="210.0" cy="332.8" r="1.85"/><circle cx="211.4" cy="337.0" r="1.85"/><circle cx="214.9" cy="327.3" r="1.85"/><circle cx="217.0" cy="325.2" r="1.85"/><circle cx="218.3" cy="323.8" r="1.85"/><circle cx="219.0" cy="332.8" r="1.85"/><circle cx="218.3" cy="310.7" r="1.85"/><circle cx="202.4" cy="339.4" r="1.85"/><circle cx="221.4" cy="310.7" r="1.85"/><circle cx="220.7" cy="334.2" r="1.85"/><circle cx="143.1" cy="341.4" r="1.85"/><circle cx="144.9" cy="342.1" r="1.85"/><circle cx="150.0" cy="341.7" r="1.85"/><circle cx="152.1" cy="342.1" r="1.85"/><circle cx="143.8" cy="345.2" r="1.85"/><circle cx="147.3" cy="344.8" r="1.85"/><circle cx="150.7" cy="344.5" r="1.85"/><circle cx="153.5" cy="343.8" r="1.85"/><circle cx="140.4" cy="347.3" r="1.85"/><circle cx="144.5" cy="347.6" r="1.85"/><circle cx="148.0" cy="347.6" r="1.85"/><circle cx="151.4" cy="348.3" r="1.85"/><circle cx="154.2" cy="346.9" r="1.85"/><circle cx="139.7" cy="350.4" r="1.85"/><circle cx="143.1" cy="350.4" r="1.85"/><circle cx="147.3" cy="350.4" r="1.85"/><circle cx="150.7" cy="350.4" r="1.85"/><circle cx="153.5" cy="349.7" r="1.85"/><circle cx="157.0" cy="351.4" r="1.85"/><circle cx="139.7" cy="353.8" r="1.85"/><circle cx="144.5" cy="353.8" r="1.85"/><circle cx="148.7" cy="354.5" r="1.85"/><circle cx="154.2" cy="354.5" r="1.85"/><circle cx="157.6" cy="354.5" r="1.85"/><circle cx="138.6" cy="356.2" r="1.85"/><circle cx="142.1" cy="356.2" r="1.85"/><circle cx="145.9" cy="358.7" r="1.85"/><circle cx="148.0" cy="359.4" r="1.85"/><circle cx="151.4" cy="358.0" r="1.85"/><circle cx="154.9" cy="357.3" r="1.85"/><circle cx="157.6" cy="358.0" r="1.85"/><circle cx="139.0" cy="360.7" r="1.85"/><circle cx="142.4" cy="360.7" r="1.85"/><circle cx="148.7" cy="361.4" r="1.85"/><circle cx="155.6" cy="361.4" r="1.85"/><circle cx="158.3" cy="360.7" r="1.85"/><circle cx="139.0" cy="364.2" r="1.85"/><circle cx="146.6" cy="364.9" r="1.85"/><circle cx="150.0" cy="364.2" r="1.85"/><circle cx="156.3" cy="364.2" r="1.85"/><circle cx="139.7" cy="367.6" r="1.85"/><circle cx="146.6" cy="367.6" r="1.85"/><circle cx="150.7" cy="368.3" r="1.85"/><circle cx="157.0" cy="367.6" r="1.85"/><circle cx="159.0" cy="363.5" r="1.85"/><circle cx="162.1" cy="342.1" r="1.85"/><circle cx="161.4" cy="344.8" r="1.85"/><circle cx="166.2" cy="347.6" r="1.85"/><circle cx="162.1" cy="348.3" r="1.85"/><circle cx="162.8" cy="351.1" r="1.85"/><circle cx="161.4" cy="353.8" r="1.85"/><circle cx="161.4" cy="358.0" r="1.85"/><circle cx="162.8" cy="356.6" r="1.85"/><circle cx="166.2" cy="362.1" r="1.85"/><circle cx="162.1" cy="364.2" r="1.85"/><circle cx="166.9" cy="367.6" r="1.85"/><circle cx="162.8" cy="368.3" r="1.85"/><circle cx="171.8" cy="341.7" r="1.85"/><circle cx="175.9" cy="342.8" r="1.85"/><circle cx="176.6" cy="346.9" r="1.85"/><circle cx="176.6" cy="349.7" r="1.85"/><circle cx="176.6" cy="354.5" r="1.85"/><circle cx="171.1" cy="356.2" r="1.85"/><circle cx="178.7" cy="366.3" r="1.85"/><circle cx="182.1" cy="368.3" r="1.85"/><circle cx="171.8" cy="369.0" r="1.85"/><circle cx="189.0" cy="356.6" r="1.85"/><circle cx="202.4" cy="340.7" r="1.85"/><circle cx="212.1" cy="344.8" r="1.85"/><circle cx="213.5" cy="347.6" r="1.85"/><circle cx="211.4" cy="346.9" r="1.85"/><circle cx="217.0" cy="348.3" r="1.85"/><circle cx="208.7" cy="353.8" r="1.85"/><circle cx="210.7" cy="353.8" r="1.85"/><circle cx="201.1" cy="356.6" r="1.85"/><circle cx="199.0" cy="360.7" r="1.85"/><circle cx="201.8" cy="360.0" r="1.85"/><circle cx="205.2" cy="359.4" r="1.85"/><circle cx="207.3" cy="358.0" r="1.85"/><circle cx="208.0" cy="360.7" r="1.85"/><circle cx="209.4" cy="364.2" r="1.85"/><circle cx="203.8" cy="364.9" r="1.85"/><circle cx="202.4" cy="367.0" r="1.85"/><circle cx="205.2" cy="367.6" r="1.85"/><circle cx="214.2" cy="358.7" r="1.85"/><circle cx="217.6" cy="358.7" r="1.85"/><circle cx="213.5" cy="366.3" r="1.85"/><circle cx="217.0" cy="367.0" r="1.85"/><circle cx="219.0" cy="360.7" r="1.85"/><circle cx="190.0" cy="357.3" r="1.85"/><circle cx="200.4" cy="362.8" r="1.85"/><circle cx="223.1" cy="344.8" r="1.85"/><circle cx="223.1" cy="347.6" r="1.85"/><circle cx="223.5" cy="350.4" r="1.85"/><circle cx="223.1" cy="353.1" r="1.85"/><circle cx="223.5" cy="356.6" r="1.85"/><circle cx="221.4" cy="360.7" r="1.85"/><circle cx="222.8" cy="362.1" r="1.85"/><circle cx="222.8" cy="364.2" r="1.85"/><circle cx="221.4" cy="366.3" r="1.85"/><circle cx="220.7" cy="368.3" r="1.85"/><circle cx="249.7" cy="356.6" r="1.85"/><circle cx="138.3" cy="371.4" r="1.85"/><circle cx="137.6" cy="373.5" r="1.85"/><circle cx="138.3" cy="375.5" r="1.85"/><circle cx="137.6" cy="377.6" r="1.85"/><circle cx="138.3" cy="379.3" r="1.85"/><circle cx="137.6" cy="381.8" r="1.85"/><circle cx="137.6" cy="384.5" r="1.85"/><circle cx="146.6" cy="370.7" r="1.85"/><circle cx="147.3" cy="374.8" r="1.85"/><circle cx="147.3" cy="378.3" r="1.85"/><circle cx="147.3" cy="381.8" r="1.85"/><circle cx="147.3" cy="385.2" r="1.85"/><circle cx="147.3" cy="388.7" r="1.85"/><circle cx="146.6" cy="390.7" r="1.85"/><circle cx="153.5" cy="371.4" r="1.85"/><circle cx="154.9" cy="376.9" r="1.85"/><circle cx="154.2" cy="380.4" r="1.85"/><circle cx="155.6" cy="383.8" r="1.85"/><circle cx="155.6" cy="387.3" r="1.85"/><circle cx="154.9" cy="390.0" r="1.85"/><circle cx="154.9" cy="371.4" r="1.85"/><circle cx="159.0" cy="374.1" r="1.85"/><circle cx="159.0" cy="379.0" r="1.85"/><circle cx="161.4" cy="371.4" r="1.85"/><circle cx="163.5" cy="378.3" r="1.85"/><circle cx="165.5" cy="377.6" r="1.85"/><circle cx="161.4" cy="381.1" r="1.85"/><circle cx="165.5" cy="383.8" r="1.85"/><circle cx="162.8" cy="385.2" r="1.85"/><circle cx="166.2" cy="386.6" r="1.85"/><circle cx="164.1" cy="388.7" r="1.85"/><circle cx="166.2" cy="390.0" r="1.85"/><circle cx="161.4" cy="389.4" r="1.85"/><circle cx="164.8" cy="391.4" r="1.85"/><circle cx="171.8" cy="383.8" r="1.85"/><circle cx="171.8" cy="390.0" r="1.85"/><circle cx="177.3" cy="374.8" r="1.85"/><circle cx="178.7" cy="380.4" r="1.85"/><circle cx="177.3" cy="385.9" r="1.85"/><circle cx="178.0" cy="388.7" r="1.85"/><circle cx="178.0" cy="391.4" r="1.85"/><circle cx="182.1" cy="370.7" r="1.85"/><circle cx="189.0" cy="379.0" r="1.85"/><circle cx="188.3" cy="383.8" r="1.85"/><circle cx="188.3" cy="387.3" r="1.85"/><circle cx="188.3" cy="390.7" r="1.85"/><circle cx="190.3" cy="379.0" r="1.85"/><circle cx="190.3" cy="385.9" r="1.85"/><circle cx="190.3" cy="390.0" r="1.85"/><circle cx="196.2" cy="373.5" r="1.85"/><circle cx="202.4" cy="372.8" r="1.85"/><circle cx="201.8" cy="375.5" r="1.85"/><circle cx="203.8" cy="374.1" r="1.85"/><circle cx="201.1" cy="378.3" r="1.85"/><circle cx="202.4" cy="381.8" r="1.85"/><circle cx="196.9" cy="383.1" r="1.85"/><circle cx="197.6" cy="385.9" r="1.85"/><circle cx="196.2" cy="388.7" r="1.85"/><circle cx="198.3" cy="390.0" r="1.85"/><circle cx="200.4" cy="387.3" r="1.85"/><circle cx="202.4" cy="388.7" r="1.85"/><circle cx="203.8" cy="390.0" r="1.85"/><circle cx="200.4" cy="391.4" r="1.85"/><circle cx="203.8" cy="385.2" r="1.85"/><circle cx="208.0" cy="373.5" r="1.85"/><circle cx="210.0" cy="376.9" r="1.85"/><circle cx="212.8" cy="376.9" r="1.85"/><circle cx="209.4" cy="383.8" r="1.85"/><circle cx="208.7" cy="388.0" r="1.85"/><circle cx="212.1" cy="385.2" r="1.85"/><circle cx="214.2" cy="388.7" r="1.85"/><circle cx="210.7" cy="390.7" r="1.85"/><circle cx="208.0" cy="391.4" r="1.85"/><circle cx="214.9" cy="383.8" r="1.85"/><circle cx="217.6" cy="381.1" r="1.85"/><circle cx="219.0" cy="386.6" r="1.85"/><circle cx="219.0" cy="390.7" r="1.85"/><circle cx="221.4" cy="376.9" r="1.85"/><circle cx="224.1" cy="377.6" r="1.85"/><circle cx="227.6" cy="376.9" r="1.85"/><circle cx="222.8" cy="380.4" r="1.85"/><circle cx="224.8" cy="381.1" r="1.85"/><circle cx="227.6" cy="383.1" r="1.85"/><circle cx="221.4" cy="385.2" r="1.85"/><circle cx="225.5" cy="385.2" r="1.85"/><circle cx="221.4" cy="389.4" r="1.85"/><circle cx="224.1" cy="390.7" r="1.85"/><circle cx="226.9" cy="390.7" r="1.85"/><circle cx="220.7" cy="392.1" r="1.85"/><circle cx="237.6" cy="383.1" r="1.85"/><circle cx="237.6" cy="385.2" r="1.85"/><circle cx="237.6" cy="387.3" r="1.85"/><circle cx="237.6" cy="389.0" r="1.85"/><circle cx="249.7" cy="375.5" r="1.85"/><circle cx="249.7" cy="386.6" r="1.85"/><circle cx="237.7" cy="383.0" r="1.85"/><circle cx="237.7" cy="385.5" r="1.85"/><circle cx="237.7" cy="388.0" r="1.85"/><circle cx="250.6" cy="356.6" r="1.85"/><circle cx="250.6" cy="375.6" r="1.85"/><circle cx="250.6" cy="387.3" r="1.85"/><circle cx="373.8" cy="391.0" r="1.85"/><circle cx="385.4" cy="391.4" r="1.85"/></g><g fill="#0000ff"><circle cx="196.6" cy="311.8" r="1.85"/><circle cx="195.4" cy="313.6" r="1.85"/><circle cx="194.2" cy="315.4" r="1.85"/><circle cx="193.0" cy="319.0" r="1.85"/><circle cx="191.3" cy="322.7" r="1.85"/><circle cx="189.4" cy="326.3" r="1.85"/><circle cx="188.2" cy="330.0" r="1.85"/><circle cx="185.7" cy="333.6" r="1.85"/><circle cx="184.0" cy="337.2" r="1.85"/><circle cx="182.1" cy="340.8" r="1.85"/><circle cx="189.0" cy="322.4" r="1.85"/><circle cx="189.0" cy="324.5" r="1.85"/><circle cx="187.6" cy="334.2" r="1.85"/><circle cx="189.0" cy="332.8" r="1.85"/><circle cx="187.0" cy="337.0" r="1.85"/><circle cx="189.0" cy="337.6" r="1.85"/><circle cx="194.1" cy="312.1" r="1.85"/><circle cx="193.5" cy="315.5" r="1.85"/><circle cx="192.8" cy="318.3" r="1.85"/><circle cx="192.1" cy="321.1" r="1.85"/><circle cx="191.4" cy="323.8" r="1.85"/><circle cx="190.7" cy="326.6" r="1.85"/><circle cx="190.3" cy="333.5" r="1.85"/><circle cx="194.8" cy="325.9" r="1.85"/><circle cx="182.8" cy="341.4" r="1.85"/><circle cx="186.3" cy="342.8" r="1.85"/></g><g fill="#ff00ff"><circle cx="140.4" cy="340.7" r="1.85"/><circle cx="142.4" cy="345.2" r="1.85"/><circle cx="143.8" cy="351.1" r="1.85"/><circle cx="147.3" cy="352.8" r="1.85"/><circle cx="142.4" cy="356.6" r="1.85"/><circle cx="139.0" cy="358.7" r="1.85"/><circle cx="144.9" cy="361.4" r="1.85"/><circle cx="149.7" cy="357.3" r="1.85"/></g>
<g font-family="Liberation Sans" font-weight="bold" font-size="16.5" fill="#000" opacity="0.999"><text x="72.2" y="401.10" text-anchor="end">0</text><text x="72.2" y="347.45" text-anchor="end">0.2</text><text x="72.2" y="293.80" text-anchor="end">0.4</text><text x="72.2" y="240.15" text-anchor="end">0.6</text><text x="72.2" y="186.50" text-anchor="end">0.8</text><text x="72.2" y="132.85" text-anchor="end">1</text><text x="72.2" y="79.20" text-anchor="end">1.2</text><text x="72.2" y="25.55" text-anchor="end">1.4</text><text x="128.36" y="411.2" text-anchor="middle">06:00</text><text x="231.07" y="411.2" text-anchor="middle">08:00</text><text x="333.79" y="411.2" text-anchor="middle">10:00</text><text x="436.50" y="411.2" text-anchor="middle">12:00</text><text x="539.21" y="411.2" text-anchor="middle">14:00</text><text x="641.93" y="411.2" text-anchor="middle">16:00</text><text x="744.64" y="411.2" text-anchor="middle">18:00</text><text x="481.5" y="428" text-anchor="end">Time (JST)</text><text x="796.5" y="427.8" text-anchor="end">2009-09-18</text><text transform="translate(15.3,19) rotate(-90)" text-anchor="end">Intensity (a.u.)</text></g>
<g font-family="Liberation Sans" font-weight="bold" font-size="16.5" opacity="0.999"><rect x="177" y="10" width="15" height="2.6" fill="#0000ff"/><text x="198.7" y="15.2" fill="#0000ff">368nm</text><rect x="321" y="10" width="15" height="2.6" fill="#00ff00"/><text x="342.7" y="15.2" fill="#00ff00">500nm</text><rect x="465" y="10" width="15" height="2.6" fill="#ff00ff"/><text x="486.7" y="15.2" fill="#ff00ff">675nm</text><rect x="609" y="10" width="15" height="2.6" fill="#ff0000"/><text x="630.7" y="15.2" fill="#ff0000">778nm</text></g>
</svg></body></html>
